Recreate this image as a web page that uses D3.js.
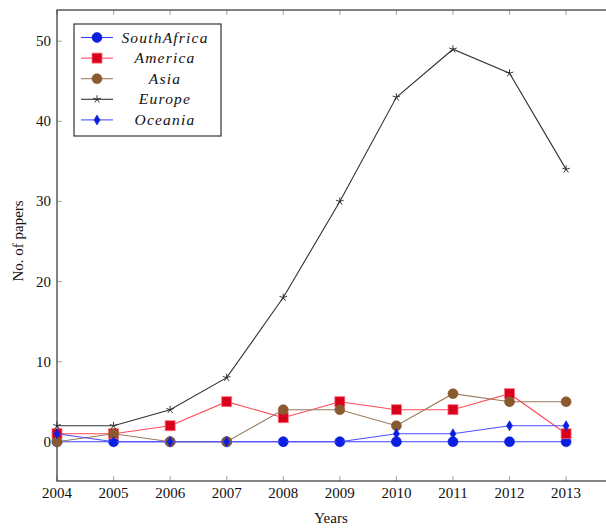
<!DOCTYPE html>
<html>
<head>
<meta charset="utf-8">
<script src="https://cdn.jsdelivr.net/npm/d3@7"></script>
<style>
    body { margin: 0; background: white; }
    text { font-family: "Liberation Serif", "DejaVu Serif", serif; fill: #111; }
</style>
</head>
<body>
<div id="chart"></div>
<script>
// chart data
const years = [2004, 2005, 2006, 2007, 2008, 2009, 2010, 2011, 2012, 2013];
const southAfrica = [0, 0, 0, 0, 0, 0, 0, 0, 0, 0];
const america = [1, 1, 2, 5, 3, 5, 4, 4, 6, 1];
const asia = [0, 1, 0, 0, 4, 4, 2, 6, 5, 5];
const europe = [2, 2, 4, 8, 18, 30, 43, 49, 46, 34];
const oceania = [1, 0, 0, 0, 0, 0, 1, 1, 2, 2];
const yTicks = [0, 10, 20, 30, 40, 50];
const seriesNames = ['SouthAfrica', 'America', 'Asia', 'Europe', 'Oceania'];

const width = 606, height = 528;
const frame = {left: 57, top: 10, bottom: 481, right: 617};

const series = [
    {name: seriesNames[0], values: southAfrica, line: '#3d3dff', fill: '#0a1fe0', stroke: '#0a1fe0', mark: 'circle'},
    {name: seriesNames[1], values: america, line: '#ff4a5a', fill: '#d8001a', stroke: '#ff7080', mark: 'square'},
    {name: seriesNames[2], values: asia, line: '#9c7a5c', fill: '#8a5a2e', stroke: '#8a5a2e', mark: 'circle'},
    {name: seriesNames[3], values: europe, line: '#333333', fill: 'none', stroke: '#222', mark: 'star'},
    {name: seriesNames[4], values: oceania, line: '#4d4dff', fill: '#0a1fe0', stroke: '#0a1fe0', mark: 'diamond'}
];

const x = d3.scaleLinear().domain([2004, 2013.9]).range([frame.left, frame.right]);
const y = d3.scaleLinear().domain([-4.9, 53.9]).range([frame.bottom, frame.top]);

const svg = d3.select('#chart').append('svg')
    .attr('width', width)
    .attr('height', height);

// ticks (inward, grey) on all four sides
const tickCol = '#b0b0b0';
years.forEach(t => {
    svg.append('line').attr('x1', x(t)).attr('x2', x(t)).attr('y1', frame.bottom).attr('y2', frame.bottom - 5)
        .attr('stroke', tickCol).attr('stroke-width', 1.2);
    svg.append('line').attr('x1', x(t)).attr('x2', x(t)).attr('y1', frame.top).attr('y2', frame.top + 5)
        .attr('stroke', tickCol).attr('stroke-width', 1.2);
});
yTicks.forEach(t => {
    svg.append('line').attr('x1', frame.left).attr('x2', frame.left + 5).attr('y1', y(t)).attr('y2', y(t))
        .attr('stroke', tickCol).attr('stroke-width', 1.2);
});

// frame
svg.append('rect')
    .attr('x', frame.left).attr('y', frame.top)
    .attr('width', frame.right - frame.left).attr('height', frame.bottom - frame.top)
    .attr('fill', 'none').attr('stroke', '#333').attr('stroke-width', 1.2);

// tick labels
svg.selectAll('.xlab').data(years).enter().append('text')
    .attr('x', d => x(d)).attr('y', frame.bottom + 17)
    .attr('text-anchor', 'middle').style('font-size', '15px')
    .text(d => d);
svg.selectAll('.ylab').data(yTicks).enter().append('text')
    .attr('x', frame.left - 6).attr('y', d => y(d) + 5)
    .attr('text-anchor', 'end').style('font-size', '15px')
    .text(d => d);

svg.append('text').attr('x', 331).attr('y', 523).attr('text-anchor', 'middle')
    .style('font-size', '15px').text('Years');
svg.append('text').attr('transform', 'translate(23,241) rotate(-90)').attr('text-anchor', 'middle')
    .style('font-size', '15px').text('No. of papers');

function drawMark(g, s, cx, cy) {
    if (s.mark === 'circle') {
        g.append('circle').attr('cx', cx).attr('cy', cy).attr('r', 5)
            .attr('fill', s.fill).attr('stroke', s.stroke).attr('stroke-width', 0.6);
    } else if (s.mark === 'square') {
        g.append('rect').attr('x', cx - 5).attr('y', cy - 5).attr('width', 10).attr('height', 10)
            .attr('fill', s.fill).attr('stroke', s.stroke).attr('stroke-width', 0.8);
    } else if (s.mark === 'diamond') {
        g.append('path').attr('d', `M${cx},${cy - 5}L${cx + 3},${cy}L${cx},${cy + 5}L${cx - 3},${cy}Z`)
            .attr('fill', s.fill).attr('stroke', s.stroke).attr('stroke-width', 0.6);
    } else {
        let d = '';
        for (let i = 0; i < 5; i++) {
            const a = -Math.PI / 2 + i * 2 * Math.PI / 5;
            d += `M${cx},${cy}L${cx + 4 * Math.cos(a)},${cy + 4 * Math.sin(a)}`;
        }
        g.append('path').attr('d', d).attr('stroke', s.stroke).attr('stroke-width', 0.9).attr('fill', 'none');
    }
}

const line = d3.line().x(d => x(d[0])).y(d => y(d[1]));
const plot = svg.append('g');
series.forEach(s => {
    const pts = years.map((yr, i) => [yr, s.values[i]]);
    plot.append('path').attr('d', line(pts))
        .attr('fill', 'none').attr('stroke', s.line).attr('stroke-width', 1.1);
    pts.forEach(p => drawMark(plot, s, x(p[0]), y(p[1])));
});

// legend
const legend = svg.append('g');
legend.append('rect').attr('x', 74).attr('y', 24).attr('width', 147).attr('height', 112)
    .attr('fill', 'white').attr('stroke', '#333').attr('stroke-width', 1.2);
series.forEach((s, i) => {
    const ly = 37.5 + i * 20.6;
    legend.append('line').attr('x1', 81).attr('x2', 113).attr('y1', ly).attr('y2', ly)
        .attr('stroke', s.line).attr('stroke-width', 1.1);
    drawMark(legend, s, 97, ly);
    legend.append('text').attr('x', 165).attr('y', ly + 5).attr('text-anchor', 'middle')
        .style('font-size', '15.5px').style('font-style', 'italic').style('letter-spacing', '1.2px')
        .text(s.name);
});
</script>
</body>
</html>
